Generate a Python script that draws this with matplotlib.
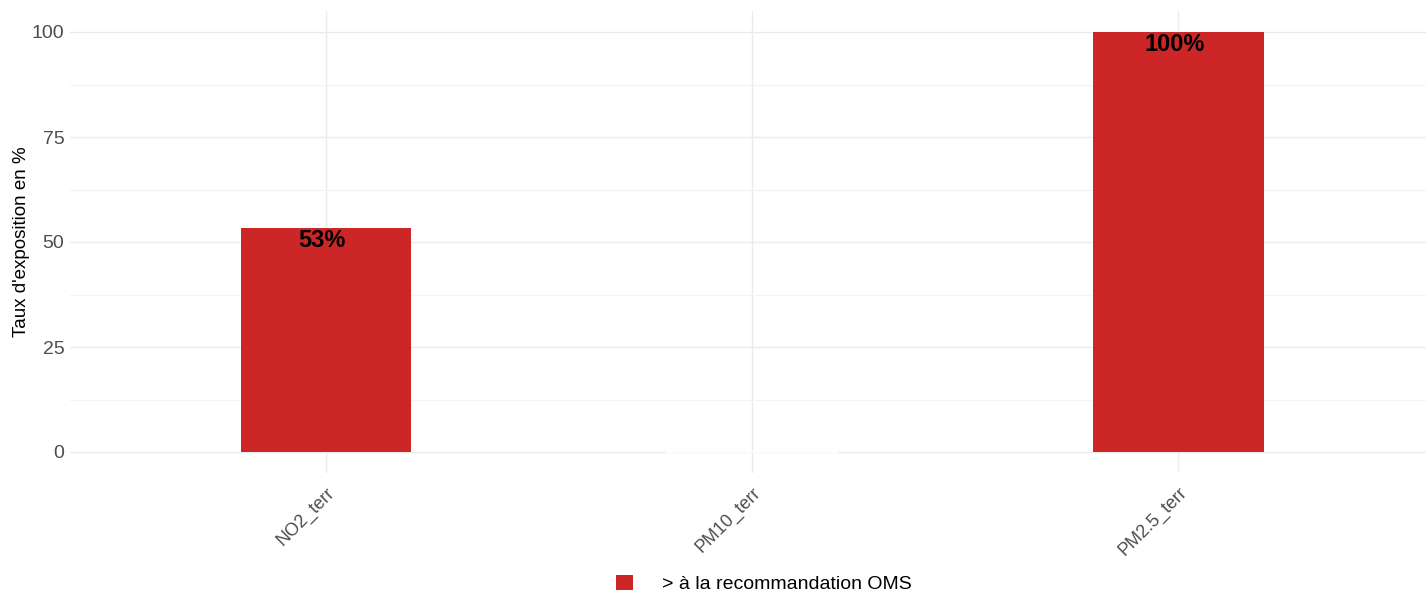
import matplotlib
matplotlib.use("Agg")
import matplotlib.pyplot as plt
from matplotlib.patches import Patch

plt.rcParams['font.family'] = ['Liberation Sans', 'DejaVu Sans']

# data
polluants = ['NO2_terr', 'PM10_terr', 'PM2.5_terr']
taux = [53.3, 0, 100]
etiquettes = ['53%', '', '100%']
legende = '> à la recommandation OMS'
couleur = '#cc2627'

W, H = 1426, 594
fig = plt.figure(figsize=(W / 100, H / 100), dpi=100)
# panel: x 70..1434 px, y 11..473 px
ax = fig.add_axes([70 / W, 1 - 473 / H, (1434 - 70) / W, (473 - 11) / H])

x = [1, 2, 3]
ax.set_xlim(0.4, 3.6)
ax.set_ylim(-5, 105)

# grid like theme_minimal
ax.set_yticks([0, 25, 50, 75, 100])
ax.set_yticks([12.5, 37.5, 62.5, 87.5], minor=True)
ax.grid(True, which='major', color='#ebebeb', linewidth=1.0)
ax.grid(True, which='minor', axis='y', color='#f3f3f3', linewidth=0.8)
ax.set_axisbelow(True)

bars = ax.bar(x, taux, width=0.4, color=couleur, edgecolor='none', zorder=2)
# zero-height bar shows as a white line
for xi, v in zip(x, taux):
    if v == 0:
        ax.plot([xi - 0.2, xi + 0.2], [0, 0], color='white', lw=1.2, zorder=3)

for xi, v, lab in zip(x, taux, etiquettes):
    if lab:
        ax.text(xi - 0.008, v - 0.2, lab, ha='center', va='top', fontsize=17,
                fontweight='bold', color='black', zorder=4)

ax.set_xticks(x)
ax.set_xticklabels(polluants, rotation=45, ha='right', va='top',
                   rotation_mode='anchor', fontsize=13, color='#4d4d4d')
ax.tick_params(axis='y', labelsize=14, labelcolor='#4d4d4d', length=0, pad=4)
ax.tick_params(axis='x', length=0, pad=8)
ax.tick_params(which='minor', length=0)

for s in ax.spines.values():
    s.set_visible(False)

ax.set_ylabel("Taux d'exposition en %", fontsize=13.5, color='black', labelpad=1)

handle = Patch(facecolor=couleur, edgecolor='none')
fig.legend([handle], [legende], loc='center', bbox_to_anchor=(764 / W, 1 - 584 / H),
           frameon=False, fontsize=14, handlelength=0.85, handleheight=0.85,
           handletextpad=1.5)

fig.savefig('out.png', dpi=100)
